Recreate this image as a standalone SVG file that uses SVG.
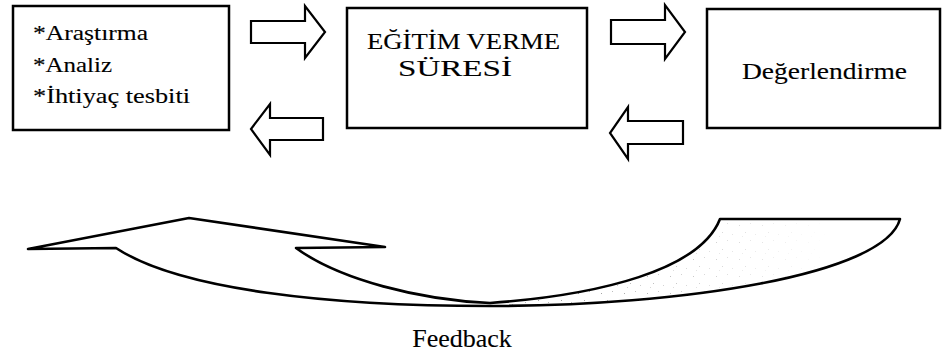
<svg xmlns="http://www.w3.org/2000/svg" width="942" height="353" viewBox="0 0 942 353">
  <style>
    .box { fill: #ffffff; stroke: #000000; stroke-width: 2.5; }
    .arrow { fill: #ffffff; stroke: #000000; stroke-width: 2.2; stroke-linejoin: miter; }
    .fb { fill: none; stroke: #000000; stroke-width: 2.6; stroke-linejoin: round; }
    text { font-family: 'Liberation Serif', 'DejaVu Serif', 'Times New Roman', serif; fill: #000000; stroke: #000000; stroke-width: 0.12; }
    .t1 { font-size: 22px; }
    .t2 { font-size: 24px; }
    .t3 { font-size: 26px; }
  </style>
  <defs>
    <pattern id="stipple" x="0" y="0" width="23" height="17" patternUnits="userSpaceOnUse">
      <rect x="3" y="4" width="1" height="1" fill="#666"/>
      <rect x="14" y="2" width="1" height="1" fill="#888"/>
      <rect x="9" y="11" width="1" height="1" fill="#777"/>
      <rect x="19" y="13" width="1" height="1" fill="#999"/>
      <rect x="6" y="15" width="1" height="1" fill="#aaa"/>
    </pattern>
    <linearGradient id="fade" x1="560" y1="0" x2="830" y2="0" gradientUnits="userSpaceOnUse">
      <stop offset="0" stop-color="#fff" stop-opacity="0.7"/>
      <stop offset="1" stop-color="#fff" stop-opacity="0"/>
    </linearGradient>
    <mask id="fadeMask" maskUnits="userSpaceOnUse" x="480" y="210" width="430" height="100">
      <rect x="480" y="210" width="430" height="100" fill="url(#fade)"/>
    </mask>
    <clipPath id="lobe">
      <path d="M490,304 C600,295 700,270 720,219 L900,219 C885,275 680,306 490,306 Z"/>
    </clipPath>
  </defs>
  <rect x="0" y="0" width="942" height="353" fill="#ffffff"/>

  <g id="node-arastirma">
    <rect class="box" x="13" y="6" width="216" height="124"/>
    <text class="t1" x="33" y="40" textLength="115" lengthAdjust="spacingAndGlyphs">*Araştırma</text>
    <text class="t1" x="33" y="72" textLength="79" lengthAdjust="spacingAndGlyphs">*Analiz</text>
    <text class="t1" x="33" y="103" textLength="157" lengthAdjust="spacingAndGlyphs">*İhtiyaç tesbiti</text>
  </g>

  <g id="node-egitim">
    <rect class="box" x="347" y="8" width="240" height="120"/>
    <text class="t2" x="367" y="49" textLength="193" lengthAdjust="spacingAndGlyphs">EĞİTİM VERME</text>
    <text class="t2" x="398" y="76" textLength="114" lengthAdjust="spacingAndGlyphs">SÜRESİ</text>
  </g>

  <g id="node-degerlendirme">
    <rect class="box" x="707" y="9" width="233" height="119"/>
    <text class="t2" x="742" y="79" textLength="165" lengthAdjust="spacingAndGlyphs">Değerlendirme</text>
  </g>

  <g id="connectors">
    <path class="arrow" d="M251,21 H305 V6 L325,32 L305,58 V43 H251 Z"/>
    <path class="arrow" d="M323,118 H270 V104 L251,129 L270,155 V140 H323 Z"/>
    <path class="arrow" d="M611,20 H665 V5 L685,32 L665,59 V44 H611 Z"/>
    <path class="arrow" d="M683,121 H628 V107 L610,133 L628,159 V144 H683 Z"/>
    <g clip-path="url(#lobe)">
      <rect x="480" y="210" width="430" height="100" fill="url(#stipple)" mask="url(#fadeMask)"/>
    </g>
    <path id="feedback-arrow" class="fb" d="M900,219 C885,275 680,306 490,306 C330,306 180,290 116,248 L28,249 L189,218 L385,247 L296,248 C340,280 420,300 490,303 C600,295 700,270 720,219 Z"/>
    <text class="t3" x="462" y="347" text-anchor="middle">Feedback</text>
  </g>
</svg>
